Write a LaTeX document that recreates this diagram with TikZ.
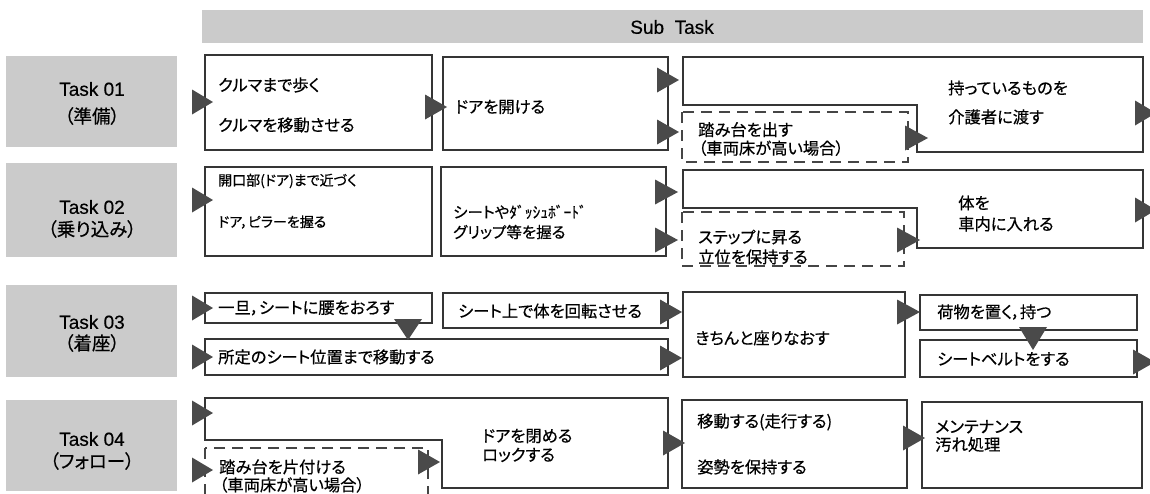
\documentclass[tikz,border=0pt]{standalone}
\usepackage{fontspec}
\setmainfont{Noto Sans CJK JP}[RawFeature=+palt,FakeBold=0.5]
\newfontfamily\latf{Liberation Sans}[FakeBold=0.4]
\definecolor{edge}{HTML}{353535}
\definecolor{dedge}{HTML}{454545}
\definecolor{trig}{HTML}{4A4A4A}
\definecolor{tgray}{HTML}{CBCBCB}
\newcommand\rtri[3]{\fill[trif] (#1,#3-12.5) -- (#2,#3) -- (#1,#3+12.5) -- cycle;}
\newcommand\dtri[3]{\fill[trif] (#1-14,#2) -- (#1+14,#2) -- (#1,#3) -- cycle;}
\begin{document}
\begin{tikzpicture}[x=1pt,y=-1pt,
  box/.style={draw=edge,line width=2.7pt},
  thinbox/.style={draw=edge,line width=1.4pt},
  dbox/.style={draw=dedge,line width=2.7pt,dash pattern=on 11pt off 7pt},
  tbox/.style={fill=tgray},
  jt/.style={anchor=west,inner sep=0pt,align=left,font=\fontsize{16.3}{19}\selectfont},
  tl/.style={inner sep=0pt,font=\latf\fontsize{19}{22}\selectfont},
  tj/.style={inner sep=0pt,font=\fontsize{18.5}{22}\selectfont},
  trif/.style={fill=trig}]
\clip (0,0) rectangle (1150,493);
\fill[white] (0,0) rectangle (1150,493);
% header
\fill[tbox] (202,10) rectangle (1143,43);
\node[tl] (sub) at (672,27) {Sub\ \ Task};
% task boxes
\fill[tbox] (6,56) rectangle (177,147);
\node[tl] (t1a) at (92,89) {Task 01};
\node[tj] (t1b) at (92,116) {（準備）};
\fill[tbox] (6,163) rectangle (177,257);
\node[tl] (t2a) at (92,207) {Task 02};
\node[tj] (t2b) at (92,229) {（乗り込み）};
\fill[tbox] (6,285) rectangle (177,377);
\node[tl] (t3a) at (92,322) {Task 03};
\node[tj] (t3b) at (92,343) {（着座）};
\fill[tbox] (6,400) rectangle (177,491);
\node[tl] (t4a) at (92,439) {Task 04};
\node[tj] (t4b) at (92,461) {（フォロー）};
% row 1
\draw[box] (205,55) rectangle (432,150);
\node[jt] (a1a) at (218,85) {クルマまで歩く};
\node[jt] (a1b) at (218,125) {クルマを移動させる};
\draw[box] (443,57) rectangle (668,150);
\node[jt] (b1) at (455,107) {ドアを開ける};
\draw[box] (683,57) -- (1143,57) -- (1143,152) -- (917,152) -- (917,105) -- (683,105) -- cycle;
\node[jt,font=\fontsize{16.3}{29}\selectfont] (c1) at (948,102.5) {持っているものを\\介護者に渡す};
\draw[dbox] (682,112) rectangle (908,162);
\node[jt,font=\fontsize{16.3}{18.5}\selectfont] (d1) at (698,139) {踏み台を出す\\（車両床が高い場合）};
% row 2
\draw[box] (205,167) rectangle (432,256);
\node[jt,font=\fontsize{14}{18}\selectfont] (a2a) at (218,181) {開口部(ドア)まで近づく};
\node[jt,font=\fontsize{14}{18}\selectfont] (a2b) at (218,222) {ドア，ピラーを握る};
\draw[box] (441,167) rectangle (666,256);
\node[jt,font=\fontsize{15.5}{20}\selectfont] (b2) at (453,222) {シートやﾀﾞｯｼｭﾎﾞｰﾄﾞ\\グリップ等を握る};
\draw[box] (683,170) -- (1143,170) -- (1143,248) -- (917,248) -- (917,208) -- (683,208) -- cycle;
\node[jt,font=\fontsize{16.3}{21}\selectfont] (c2) at (958,213.5) {体を\\車内に入れる};
\draw[dbox] (682,212) rectangle (904,266);
\node[jt,font=\fontsize{16.3}{20}\selectfont] (d2) at (698,247) {ステップに昇る\\立位を保持する};
% row 3
\draw[box] (205,293) rectangle (432,323);
\node[jt] (a3a) at (218,308) {一旦，シートに腰をおろす};
\draw[box] (205,339) rectangle (668,375);
\node[jt] (a3b) at (218,357) {所定のシート位置まで移動する};
\draw[box] (443,293) rectangle (668,328);
\node[jt] (b3) at (458,311) {シート上で体を回転させる};
\draw[box] (683,292) rectangle (905,377);
\node[jt] (c3) at (695,338) {きちんと座りなおす};
\draw[box] (920,295) rectangle (1137,330);
\node[jt] (d3a) at (937,312) {荷物を置く，持つ};
\draw[box] (920,340) rectangle (1137,377);
\node[jt] (d3b) at (937,359) {シートベルトをする};
% row 4
\draw[box] (205,398) -- (668,398) -- (668,488) -- (442,488) -- (442,440) -- (205,440) -- cycle;
\node[jt,font=\fontsize{16.3}{19}\selectfont] (a4) at (482,445.5) {ドアを閉める\\ロックする};
\draw[dbox] (205,448) rectangle (428,505);
\node[jt,font=\fontsize{16.3}{18}\selectfont] (d4) at (219,476) {踏み台を片付ける\\（車両床が高い場合）};
\draw[box] (682,400) rectangle (907,488);
\node[jt] (b4a) at (697,422) {移動する(走行する)};
\node[jt] (b4b) at (697,467) {姿勢を保持する};
\draw[thinbox] (922,402) rectangle (1142,488);
\node[jt,font=\fontsize{16.3}{18}\selectfont] (c4) at (935,436) {メンテナンス\\汚れ処理};
% arrow triangles
\rtri{192}{213}{102}
\rtri{425}{447}{107}
\rtri{657}{679}{80}
\rtri{657}{679}{132}
\rtri{905}{928}{138}
\rtri{1135}{1156}{113}
\rtri{192}{213}{200}
\rtri{655}{678}{192}
\rtri{655}{678}{240}
\rtri{897}{920}{240}
\rtri{1135}{1156}{210}
\rtri{192}{213}{308}
\rtri{192}{213}{357}
\dtri{408}{319}{340}
\rtri{660}{682}{312}
\rtri{660}{682}{358}
\rtri{897}{920}{312}
\dtri{1033}{327}{350}
\rtri{1133}{1155}{362}
\rtri{192}{213}{413}
\rtri{192}{213}{470}
\rtri{418}{440}{462}
\rtri{663}{685}{443}
\rtri{903}{925}{438}
\end{tikzpicture}
\end{document}
